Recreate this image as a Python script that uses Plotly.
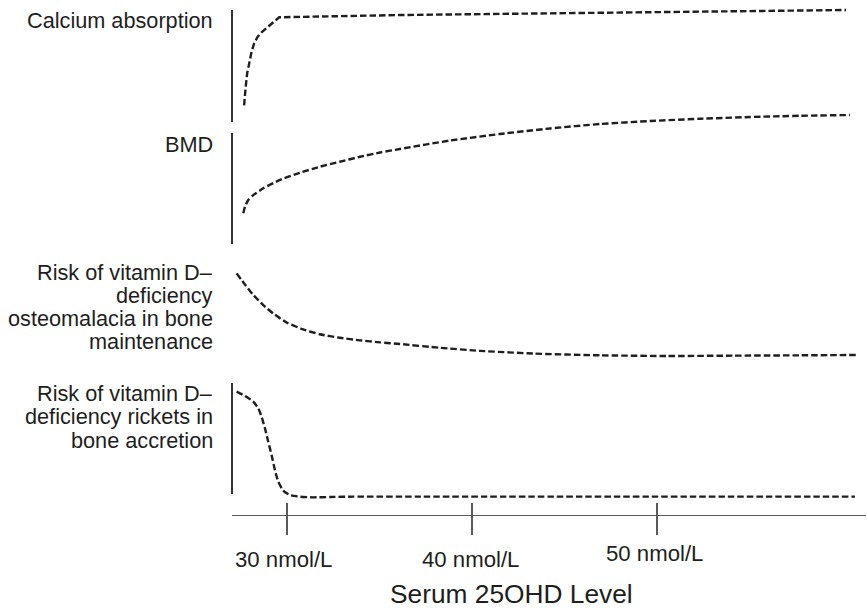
import plotly.graph_objects as go

# ---------------- data (x in nmol/L, y = relative response level in each panel) ----------------
calcium_x = [27.64, 27.69, 27.77, 27.85, 27.96, 28.09, 28.23, 28.42, 28.63, 28.90, 29.12, 29.30,
             29.48, 29.58, 36.11, 46.92, 60.22]
calcium_y = [0.063, 0.196, 0.315, 0.435, 0.538, 0.628, 0.703, 0.762, 0.801, 0.837, 0.866, 0.896,
             0.920, 0.935, 0.955, 0.977, 1.0]

bmd_x = [27.64, 27.73, 27.91, 28.18, 28.72, 29.62, 30.70, 31.78, 32.86, 33.95, 35.03, 36.11,
         38.81, 41.51, 44.22, 46.92, 49.62, 52.32, 55.03, 57.73, 60.43]
bmd_y = [0.277, 0.336, 0.396, 0.441, 0.502, 0.577, 0.642, 0.696, 0.741, 0.786, 0.824, 0.856,
         0.932, 0.991, 1.041, 1.081, 1.108, 1.128, 1.144, 1.155, 1.162]

osteo_x = [27.28, 27.73, 28.18, 28.72, 29.26, 29.98, 30.88, 31.78, 32.86, 33.95, 35.03, 36.11,
           38.27, 40.43, 43.30, 46.92, 50.54, 54.11, 57.73, 60.86]
osteo_y = [0.863, 0.763, 0.670, 0.580, 0.504, 0.424, 0.362, 0.319, 0.288, 0.265, 0.247, 0.232,
           0.198, 0.171, 0.147, 0.131, 0.125, 0.128, 0.131, 0.134]

rickets_x = [27.28, 27.73, 28.18, 28.45, 28.63, 28.81, 28.99, 29.17, 29.35, 29.53, 29.80, 30.16,
             30.70, 31.42, 32.32, 33.58, 37.19, 60.70]
rickets_y = [0.922, 0.883, 0.832, 0.772, 0.696, 0.592, 0.471, 0.351, 0.216, 0.111, 0.030, -0.009,
             -0.024, -0.030, -0.027, -0.024, -0.024, -0.024]

panel_labels = [
    ["Calcium absorption"],
    ["BMD"],
    ["Risk of vitamin D\u2013", "deficiency", "osteomalacia in bone", "maintenance"],
    ["Risk of vitamin D\u2013", "deficiency rickets in", "bone accretion"],
]
tick_vals = [30, 40, 50]
tick_text = ["30 nmol/L", "40 nmol/L", "50 nmol/L"]
x_title = "Serum 25OHD Level"

# ---------------- layout helpers ----------------
W, H = 867, 609
ML, MR = 232, 1
FONT = "Liberation Sans, Arial, Helvetica, sans-serif"
INK = "#1e1e1e"
AX = "#5a5a5a"
X_RANGE = [27.03, 61.30]


def pf(px):
    return 1 - px / H


def px_x(px):
    return (px - ML) / (W - ML - MR)


# (domain top, domain bottom, scale top, scale bottom) in pixels
panels = [
    (4, 126, 10, 122),
    (108, 250, 133, 244),
    (255, 375, 258, 370),
    (380, 504, 383, 494),
]
show_vline = [True, True, False, True]
line_shapes = ["linear", "spline", "spline", "spline"]
label_y_px = [[20.5], [144.5], [272, 295.5, 318.5, 341.5], [393, 416.5, 440]]

series = [(calcium_x, calcium_y), (bmd_x, bmd_y), (osteo_x, osteo_y), (rickets_x, rickets_y)]

fig = go.Figure()
for i, (xs, ys) in enumerate(series):
    yname = "y" if i == 0 else f"y{i+1}"
    line = dict(color=INK, width=2.4, dash="6.5px,3px", shape=line_shapes[i])
    if line_shapes[i] == "spline":
        line["smoothing"] = 0.5
    fig.add_trace(go.Scatter(x=xs, y=ys, mode="lines", xaxis="x", yaxis=yname,
                             line=line, hoverinfo="skip", showlegend=False))

# dummy trace so the overlay axis (upper halves of tick marks) is drawn
fig.add_trace(go.Scatter(x=[None], y=[None], xaxis="x2", yaxis="y4",
                         showlegend=False, hoverinfo="skip"))

layout = dict(
    width=W, height=H,
    margin=dict(l=ML, r=MR, t=0, b=0),
    paper_bgcolor="white", plot_bgcolor="white",
    showlegend=False,
    font=dict(family=FONT, color=INK),
    xaxis=dict(range=X_RANGE, domain=[0, 1], anchor="free", position=pf(514.5),
               showline=True, linecolor=AX, linewidth=1.6,
               ticks="outside", ticklen=19, tickwidth=1.4, tickcolor=AX,
               tickvals=tick_vals, showticklabels=False,
               showgrid=False, zeroline=False, fixedrange=True),
    xaxis2=dict(range=X_RANGE, overlaying="x", anchor="free", position=pf(514.5),
                showline=False, ticks="inside", ticklen=12, tickwidth=1.4, tickcolor=AX,
                tickvals=tick_vals, showticklabels=False,
                showgrid=False, zeroline=False, fixedrange=True),
)

shapes = []
annotations = []
for i, (dt, db, lt, lb) in enumerate(panels):
    h = lb - lt
    key = "yaxis" if i == 0 else f"yaxis{i+1}"
    yref = "y" if i == 0 else f"y{i+1}"
    layout[key] = dict(domain=[pf(db), pf(dt)], range=[-(db - lb) / h, 1 + (lt - dt) / h],
                       anchor="x", visible=False, fixedrange=True)
    if show_vline[i]:
        shapes.append(dict(type="line", xref="x domain", x0=0, x1=0, yref=yref, y0=0, y1=1,
                           line=dict(color=INK, width=1.8)))
    for text, ypx in zip(panel_labels[i], label_y_px[i]):
        annotations.append(dict(text=text, xref="paper", yref="paper", x=px_x(214.5), y=pf(ypx),
                                xanchor="right", yanchor="middle", showarrow=False,
                                font=dict(size=21.7, family=FONT, color=INK)))

tick_label_y = [559, 559, 553.5]
tick_label_shift = [-3.5, -1, -2.5]
for v, t, ypx, sh in zip(tick_vals, tick_text, tick_label_y, tick_label_shift):
    annotations.append(dict(text=t, xref="x", yref="paper", x=v, y=pf(ypx), xshift=sh,
                            xanchor="center", yanchor="middle", showarrow=False,
                            font=dict(size=22.2, family=FONT, color=INK)))

annotations.append(dict(text=x_title, xref="paper", yref="paper", x=px_x(511.5), y=pf(594.2),
                        xanchor="center", yanchor="middle", showarrow=False,
                        font=dict(size=26.3, family=FONT, color=INK)))

layout["shapes"] = shapes
layout["annotations"] = annotations
fig.update_layout(**layout)

fig.write_html("out.html",
               config={"displayModeBar": False, "staticPlot": True},
               post_script="document.body.style.margin='0px';document.body.style.padding='0px';")
